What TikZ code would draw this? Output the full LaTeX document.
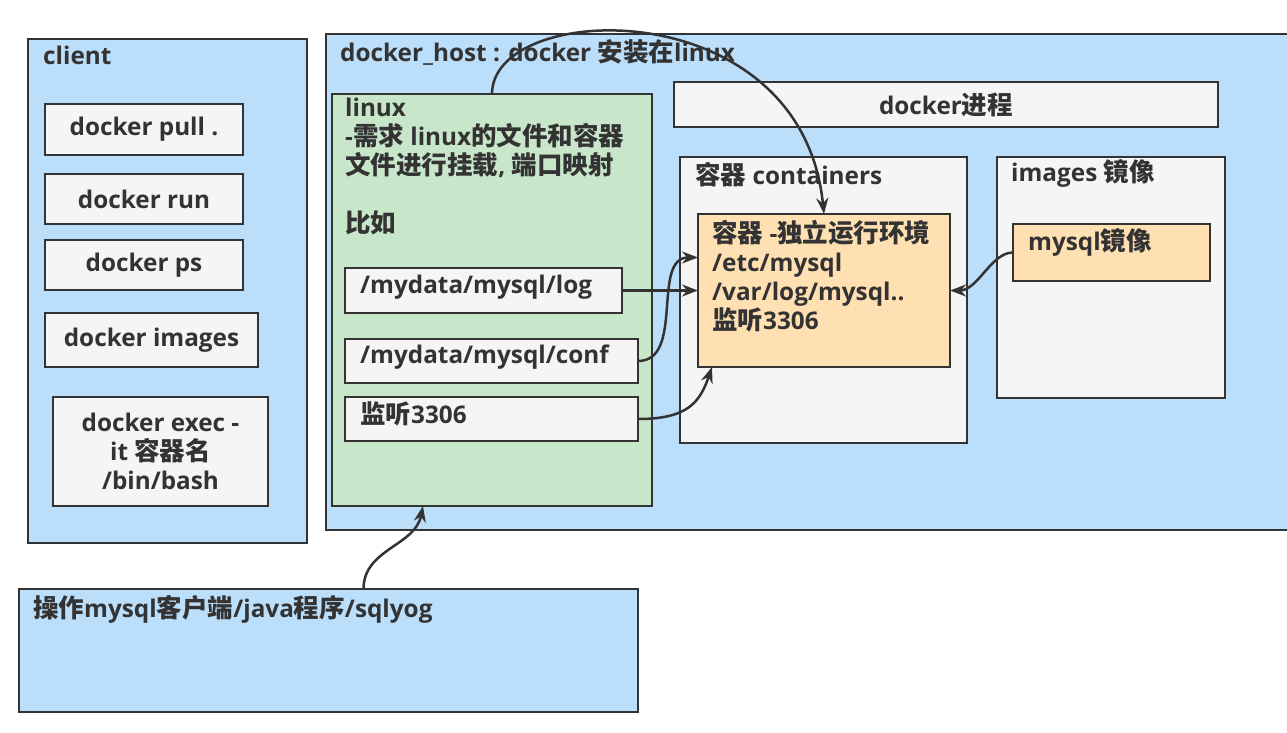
\documentclass[tikz,border=0pt]{standalone}
\usepackage{fontspec}
\setmainfont{Open Sans}
\newfontfamily\zhfont{Noto Sans CJK SC}[Scale=1.05]
\usetikzlibrary{arrows.meta}
\definecolor{hostblue}{RGB}{187,222,251}
\definecolor{linuxgreen}{RGB}{200,230,201}
\definecolor{boxgray}{RGB}{245,245,245}
\definecolor{envorange}{RGB}{255,224,178}
\definecolor{inkgray}{RGB}{51,51,51}
\newcommand{\zh}[1]{{\zhfont\bfseries #1}}
\tikzset
  {frame/.style={draw=inkgray,line width=2.2pt,anchor=north west,inner sep=0pt,outer sep=0pt},
   cmd/.style={frame,fill=boxgray,text=inkgray,align=center,font=\bfseries\fontsize{24.3}{29}\selectfont},
   lab/.style={anchor=north west,inner sep=0pt,text=inkgray,align=left,font=\bfseries\fontsize{24.3}{29}\selectfont,execute at begin node=\strut},
   link/.style={draw=inkgray,line width=2.5pt,-{Stealth[length=16pt,width=12pt]}}}

\begin{document}
\begin{tikzpicture}[x=1pt,y=-1pt]
\useasboundingbox (0,0) rectangle (1287,733);

% client
\draw (28,39) node[frame,fill=hostblue,minimum width=279,minimum height=504] (client) {};
\draw (43,43.7) node[lab] (clientlab) {client};
\draw (45,104) node[cmd,minimum width=198,minimum height=51] (pull) {docker pull .};
\draw (45,174) node[cmd,minimum width=198,minimum height=50] (run) {docker run};
\draw (45,240) node[cmd,minimum width=198,minimum height=50] (ps) {docker ps};
\draw (45,313) node[cmd,minimum width=213,minimum height=54] (imgs) {docker images};
\draw (53,397) node[cmd,minimum width=215,minimum height=109] (exec) {docker exec -\\it \zh{容器名}\\/bin/bash};

% docker host
\draw (326,34) node[frame,fill=hostblue,minimum width=1000,minimum height=496] (host) {};
\draw (340,39.7) node[lab] (hostlab) {docker\_host : docker \zh{安装在}linux};

\draw (332,94) node[frame,fill=linuxgreen,minimum width=320,minimum height=412] (linux) {};
\draw (345,97.7) node[lab] (linuxlab)
      {linux\\
       -\zh{需求} linux\zh{的文件和容器}\\
       \zh{文件进行挂载}, \zh{端口映射}\\[29pt]
       \zh{比如}};
\draw (345,268) node[frame,fill=boxgray,minimum width=277,minimum height=45] (log) {};
\draw (360,272.7) node[lab] (loglab) {/mydata/mysql/log};
\draw (345,339) node[frame,fill=boxgray,minimum width=293,minimum height=44] (conf) {};
\draw (360,342.7) node[lab] (conflab) {/mydata/mysql/conf};
\draw (345,397) node[frame,fill=boxgray,minimum width=293,minimum height=44] (port) {};
\draw (360,401.7) node[lab] (portlab) {\zh{监听}3306};

\draw (674,82) node[cmd,minimum width=544,minimum height=45] (proc) {docker\zh{进程}};

\draw (680,157) node[frame,fill=boxgray,minimum width=287,minimum height=286] (ctn) {};
\draw (695,161.7) node[lab] (ctnlab) {\zh{容器} containers};
\draw (698,214) node[frame,fill=envorange,minimum width=252,minimum height=153] (env) {};
\draw (712,219.7) node[lab] (envlab)
      {\zh{容器} -\zh{独立运行环境}\\
       /etc/mysql\\
       /var/log/mysql..\\
       \zh{监听}3306};

\draw (997,157) node[frame,fill=boxgray,minimum width=228,minimum height=241] (img) {};
\draw (1011,159.7) node[lab] (imglab) {images \zh{镜像}};
\draw (1013,224) node[frame,fill=envorange,minimum width=197,minimum height=57] (mysql) {};
\draw (1028,228.7) node[lab] (mysqllab) {mysql\zh{镜像}};

% client programs
\draw (19,589) node[frame,fill=hostblue,minimum width=619,minimum height=123] (app) {};
\draw (33,594.7) node[lab] (applab) {\zh{操作}mysql\zh{客户端}/java\zh{程序}/sqlyog};

% connectors
\draw[link] (linux.north) .. controls +(0,-94) and +(-23,-224) .. (env.north);
\draw[link] (log.east) -- (log.east -| env.west);
\draw[link] (conf.east) .. controls +(47,0) and +(-47,0) .. ([yshift=33pt]env.west);
\draw[link] (port.east) .. controls +(50,0) and +(-12,35) .. ([xshift=14pt]env.south west);
\draw[link] (mysql.west) .. controls +(-22,0) and +(28,0) .. (env.east);
\draw[link] ([xshift=35pt]app.north) .. controls +(0,-40) and +(-8,40) .. ([xshift=-69pt]linux.south);
\end{tikzpicture}
\end{document}
